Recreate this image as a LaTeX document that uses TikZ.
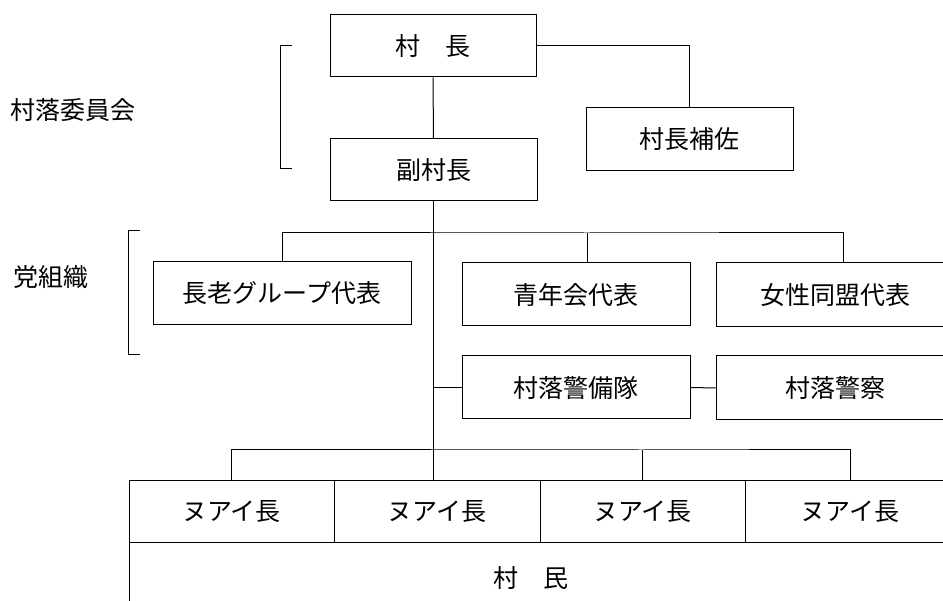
\documentclass[tikz,border=0pt]{standalone}
\usepackage{fontspec}
\newfontfamily\jp{Noto Sans CJK JP}
\usetikzlibrary{calc}
\begin{document}
\begin{tikzpicture}[x=1pt,y=-1pt,
  font=\jp\fontsize{25}{28}\selectfont,
  box/.style={draw, line width=1pt, inner sep=0pt, minimum height=62pt},
  conn/.style={line width=1pt},
  lbl/.style={inner sep=0pt}]
\useasboundingbox (0,0) rectangle (943,601);

% top level
\node[box, minimum width=206pt] (chief) at (433,46) {村　長};
\node[box, minimum width=207pt] (vice) at (433.5,170) {副村長};
\node[box, minimum width=207pt, minimum height=63pt] (asst) at (689.5,139.5) {村長補佐};

% side labels
\node[lbl] (cmte) at (73,110) {村落委員会};
\node[lbl] (party) at (51,277) {党組織};

% party organisation
\node[box, minimum width=258pt, minimum height=63pt] (elder) at (282,293.5) {長老グループ代表};
\node[box, minimum width=228pt, minimum height=63pt] (youth) at (576,294.5) {青年会代表};
\node[box, minimum width=238pt, minimum height=64pt] (women) at (835,295) {女性同盟代表};
\node[box, minimum width=228pt, minimum height=63pt] (guard) at (576,387.5) {村落警備隊};
\node[box, minimum width=238pt, minimum height=64pt] (police) at (835,388) {村落警察};

% hamlet heads
\node[box, minimum width=205pt, minimum height=61pt] (n1) at (231.5,511.5) {ヌアイ長};
\node[box, minimum width=206pt, minimum height=61pt] (n2) at (437,511.5) {ヌアイ長};
\node[box, minimum width=205pt, minimum height=61pt] (n3) at (642.5,511.5) {ヌアイ長};
\node[box, minimum width=210pt, minimum height=61pt] (n4) at (850,511.5) {ヌアイ長};

% villagers
\node[box, minimum width=831pt, minimum height=78pt] (villagers) at (544.5,581) {};
\node[lbl] (villagerstext) at (531,578) {村　民};

% connectors
\draw[conn] (chief.south) -- (vice.north);
\draw[conn] (chief.east) -| (asst.north);

\coordinate (bus1) at (587,233);
\coordinate (ydrop) at (587,263);
\coordinate (wdrop) at (843,263);
\draw[conn] (elder.north) |- (bus1) -| (wdrop);
\draw[conn] (bus1) -- (ydrop);

\draw[conn] (vice.south) -- (vice.south |- n2.north);
\draw[conn] (vice.south |- guard.west) -- (guard.west);
\draw[conn] (guard.east) -- (police.west);

\coordinate (bus2) at (642.5,450);
\draw[conn] (n1.north) |- (bus2) -| (n4.north);
\draw[conn] (bus2) -- (n3.north);

% brackets
\draw[conn] (292,46) -- (280,46) -- (280,169) -- (292,169);
\draw[conn] (140,231) -- (128,231) -- (128,355) -- (140,355);
\end{tikzpicture}
\end{document}
